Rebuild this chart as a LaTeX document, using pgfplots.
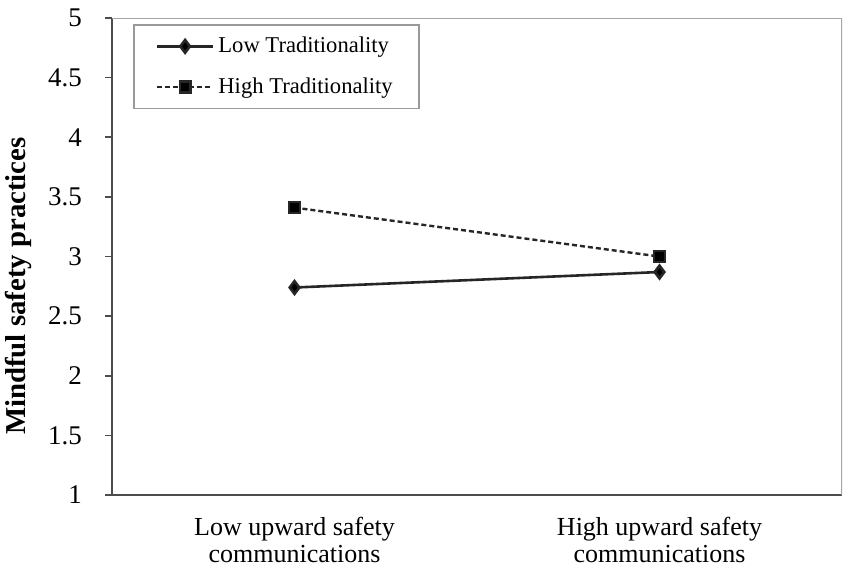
\documentclass[border=0pt]{standalone}
\usepackage{fontspec}
\setmainfont{Liberation Serif}
\usepackage{pgfplots}
\pgfplotsset{compat=1.18}
\begin{document}
\begin{tikzpicture}
\path[use as bounding box] (-56pt,-40pt) rectangle (369pt,247.5pt);
\begin{axis}[
  at={(0pt,0pt)}, anchor=south west,
  scale only axis,
  width=365pt, height=238.5pt,
  xmin=-0.5, xmax=1.5,
  ymin=1, ymax=5,
  ytick={1,1.5,...,5},
  yticklabels={1,1.5,2,2.5,3,3.5,4,4.5,5},
  xtick={0,1},
  xticklabels={{Low upward safety\\communications},{High upward safety\\communications}},
  axis x line*=bottom,
  axis y line*=left,
  axis line style={draw=black!70, line width=1pt},
  y axis line style={-}, x axis line style={-},
  xtick style={draw=none},
  ytick style={draw=black!70, line width=0.8pt},
  tick align=outside,
  major tick length=3.5pt,
  /pgf/number format/assume math mode=true,
  yticklabel style={font=\fontsize{13.5}{15}\selectfont, xshift=-8pt},
  xticklabel style={font=\fontsize{13}{13.5}\selectfont, align=center, yshift=-4pt},
  ylabel={\textbf{Mindful safety practices}},
  ylabel style={font=\fontsize{14.4}{16}\selectfont, at={(rel axis cs:0,0.438)}, anchor=center, yshift=47pt},
  legend cell align=left,
  legend style={at={(rel axis cs:0.0288,0.987)}, anchor=north west,
    draw=black!40, line width=0.8pt,
    font=\fontsize{11.3}{13}\selectfont,
    inner xsep=11pt, inner ysep=4pt, row sep=7pt,
    nodes={inner sep=2pt}},
  legend image code/.code={\draw[mark repeat=2,mark phase=2,#1] plot coordinates {(0pt,0pt)(14pt,0pt)(28pt,0pt)};},
]
\draw[black!35, line width=0.8pt] (rel axis cs:0,1) -- (rel axis cs:1,1) -- (rel axis cs:1,0);
\addplot[black!85, line width=1.3pt, mark=diamond*, mark size=3.2pt, mark options={solid, fill=black}]
  coordinates {(0,2.74) (1,2.87)};
\addlegendentry{Low Traditionality}
\addplot[black!85, line width=1.2pt, dash pattern=on 2.5pt off 1.5pt, mark=square*, mark size=2.7pt, mark options={solid, fill=black}]
  coordinates {(0,3.41) (1,3.00)};
\addlegendentry{High Traditionality}
\end{axis}
\end{tikzpicture}
\end{document}
